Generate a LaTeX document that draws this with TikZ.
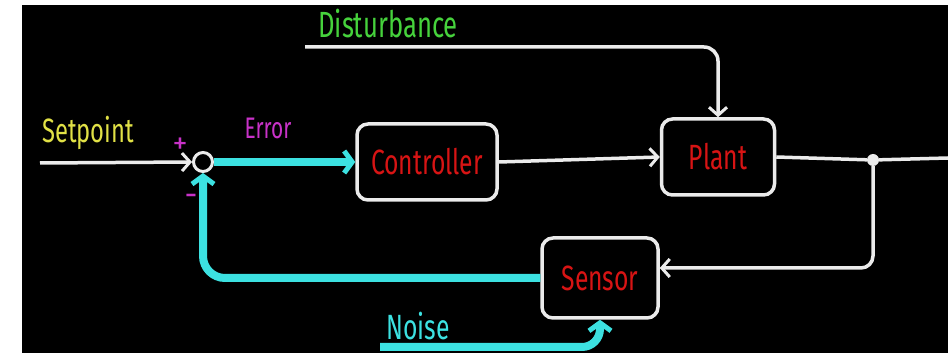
\documentclass[tikz,border=0pt]{standalone}
\usepackage{fontspec}
\setmainfont{Fira Sans}
\usetikzlibrary{arrows.meta,calc}
\definecolor{wline}{RGB}{235,235,235}
\definecolor{cyanl}{RGB}{60,225,225}
\definecolor{redt}{RGB}{215,20,20}
\definecolor{yel}{RGB}{225,225,70}
\definecolor{mag}{RGB}{200,50,200}
\definecolor{grn}{RGB}{70,210,60}
\newcommand{\tallt}[1]{\scalebox{0.95}[1.35]{#1}}
\tikzset{
  blk/.style={draw=wline, line width=3.5pt, rounded corners=11pt, fill=black,
    text=redt, font=\fontsize{26}{26}\selectfont, inner sep=0pt},
  wire/.style={draw=wline, line width=3.5pt},
  cwire/.style={draw=cyanl, line width=8pt},
  warrow/.style={-{Straight Barb[length=8pt,width=18pt,line width=3pt]}},
  carrow/.style={-{Straight Barb[length=8pt,width=22pt,line width=5pt]}},
  lbl/.style={font=\fontsize{25}{25}\selectfont, inner sep=0pt}
}
\begin{document}
\begin{tikzpicture}[x=1pt,y=-1pt]
\useasboundingbox (0,0) rectangle (948,355);
\fill[white] (0,0) rectangle (948,355);
\fill[black] (22,5) rectangle (948,353);
% blocks
\node[blk, minimum width=140pt, minimum height=76pt] (ctrl) at (427,162) {\tallt{Controller}};
\node[blk, minimum width=113pt, minimum height=76pt] (plant) at (718,157) {\tallt{Plant}};
\node[blk, minimum width=116pt, minimum height=80pt] (sensor) at (600,278) {\tallt{Sensor}};
\node[circle, draw=wline, line width=3pt, minimum size=19pt, inner sep=0pt] (sum) at (203,162) {};
\node[circle, fill=wline, minimum size=12pt, inner sep=0pt] (dot) at (873,160) {};
% free ends
\coordinate (in) at (40,163);
\coordinate (out) at (948,158);
\coordinate (dstart) at (305,47);
\coordinate (nstart) at (380,347);
% labels
\node[lbl, text=yel] (setl) at (88,133) {\tallt{Setpoint}};
\node[lbl, text=mag, font=\fontsize{22}{22}\selectfont] (errl) at (268,128) {\tallt{Error}};
\node[lbl, text=mag, font=\fontsize{30}{30}\selectfont] (plus) at (180,146) {+};
\node[lbl, text=mag, font=\fontsize{32}{32}\selectfont] (minus) at (191,200) {-};
\node[lbl, text=grn, font=\fontsize{27}{27}\selectfont] (distl) at (388,24) {\tallt{Disturbance}};
\node[lbl, text=cyanl, font=\fontsize{26}{26}\selectfont] (noisel) at (418,326) {\tallt{Noise}};
% connectors
\draw[wire, warrow] (in) -- (sum.west);
\draw[cwire, carrow] (sum.east) -- (ctrl.west);
\draw[wire, warrow] (ctrl.east) -- (plant.west);
\draw[wire] (plant.east) -- (dot) -- (out);
\draw[wire, warrow, rounded corners=12pt] (dot) |- ([yshift=10pt]sensor.east);
\draw[wire, warrow, rounded corners=14pt] (dstart) -| (plant.north);
\draw[cwire, carrow, rounded corners=22pt] (sensor.west) -| (sum.south);
\draw[cwire, carrow, rounded corners=18pt] (nstart) -| (sensor.south);
\end{tikzpicture}
\end{document}
